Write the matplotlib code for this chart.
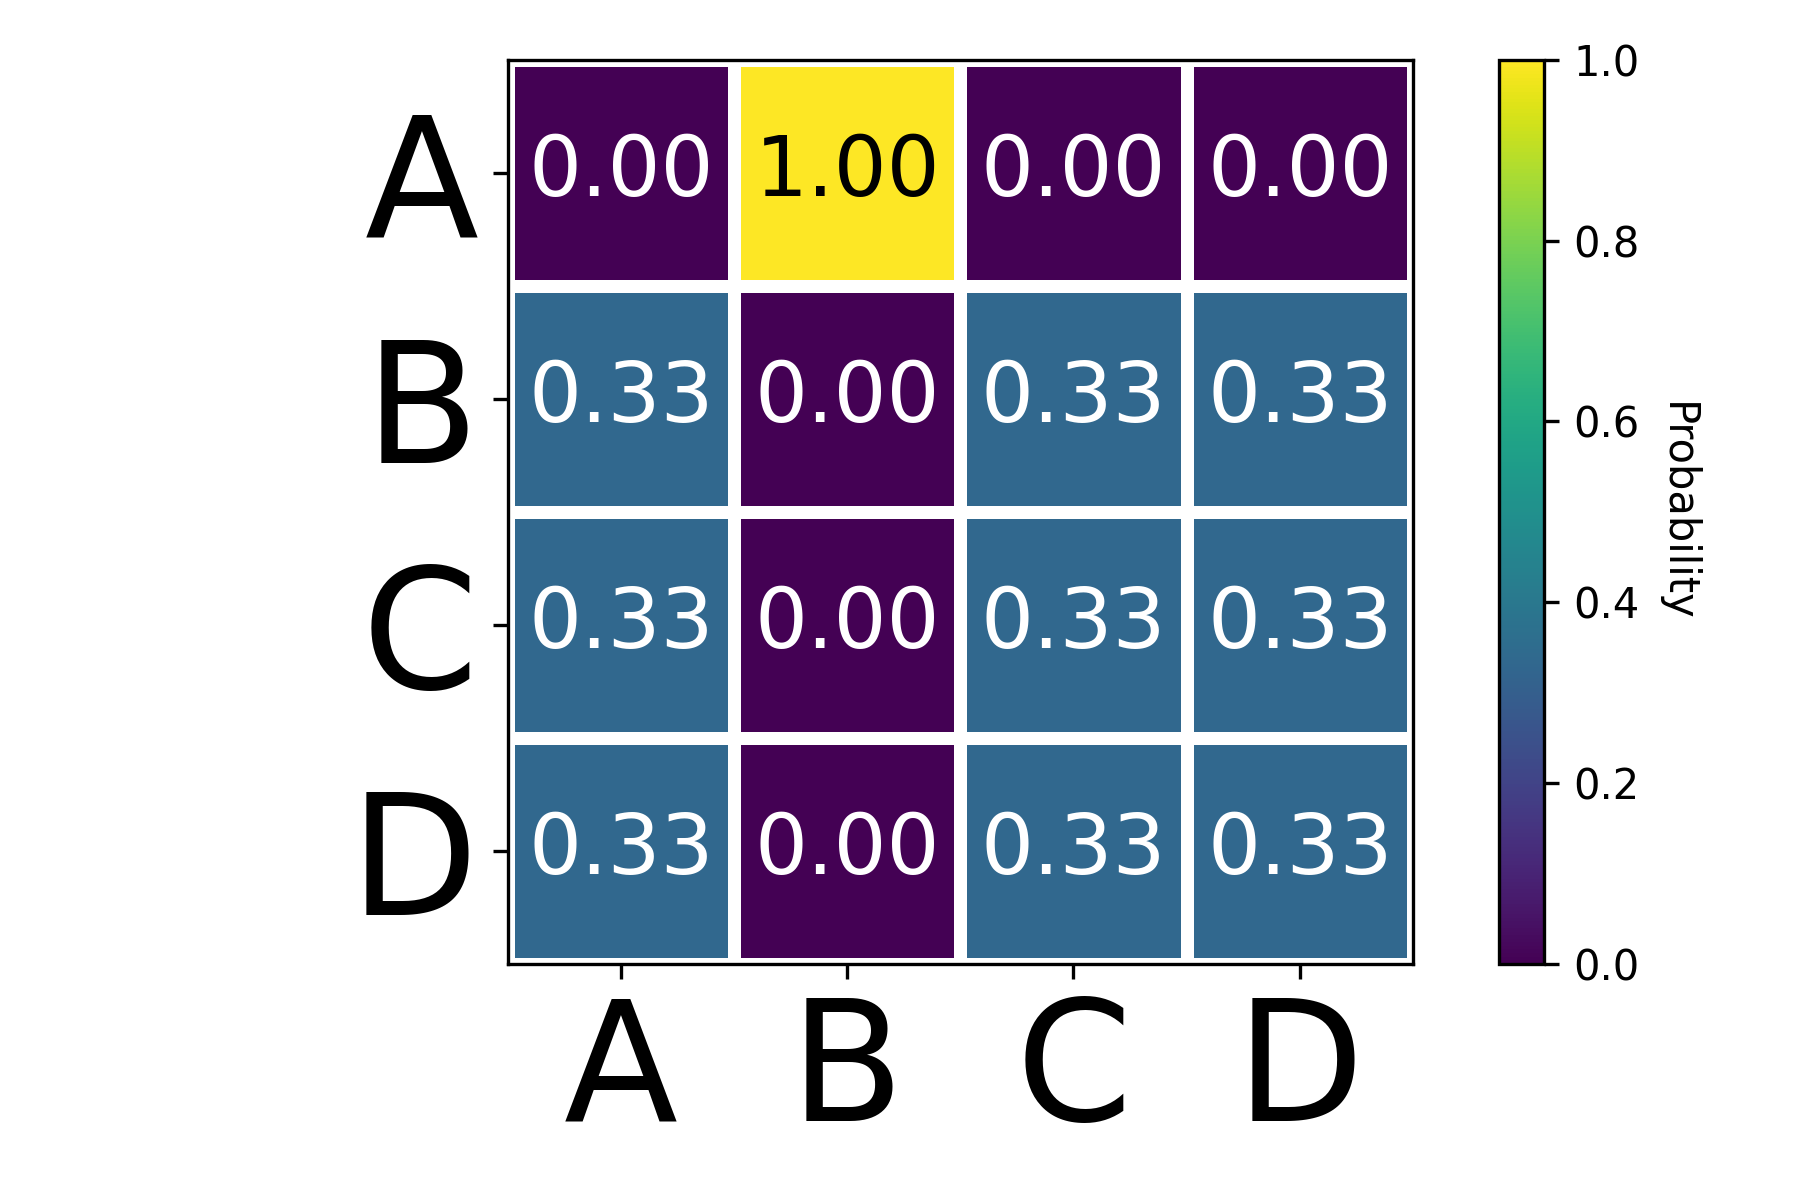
import numpy as np
import matplotlib
matplotlib.use("Agg")
import matplotlib.pyplot as plt

# Данные матрицы переходов
states = ["A", "B", "C", "D"]
row_a = [0.0, 1.0, 0.0, 0.0]
row_b = [1 / 3, 0.0, 1 / 3, 1 / 3]
row_c = [1 / 3, 0.0, 1 / 3, 1 / 3]
row_d = [1 / 3, 0.0, 1 / 3, 1 / 3]
cbar_ticks = [0.0, 0.2, 0.4, 0.6, 0.8, 1.0]

matrix = np.array([row_a, row_b, row_c, row_d])

fig = plt.figure(figsize=(6, 4), dpi=300)
ax = fig.add_axes([0.282, 0.197, 0.503, 0.753])
cax = fig.add_axes([0.833, 0.197, 0.025, 0.753])

mesh = ax.pcolormesh(matrix, cmap="viridis", vmin=0, vmax=1,
                     edgecolors="white", linewidth=3)
ax.set_xlim(0, len(states))
ax.set_ylim(len(states), 0)

# Подписи в ячейках
for i in range(matrix.shape[0]):
    for j in range(matrix.shape[1]):
        val = matrix[i, j]
        color = "black" if val > 0.5 else "white"
        ax.text(j + 0.5, i + 0.5, f"{val:.2f}", ha="center", va="center",
                color=color, fontsize=20)

ax.set_xticks(np.arange(len(states)) + 0.5)
ax.set_yticks(np.arange(len(states)) + 0.5)
ax.set_xticklabels(states, fontsize=40)
ax.set_yticklabels(states, fontsize=40)

cbar = fig.colorbar(mesh, cax=cax, ticks=cbar_ticks)
cbar.ax.tick_params(labelsize=10)
cbar.set_label("Probability", rotation=270, labelpad=14, fontsize=10)

fig.savefig("out.png", dpi=300)
